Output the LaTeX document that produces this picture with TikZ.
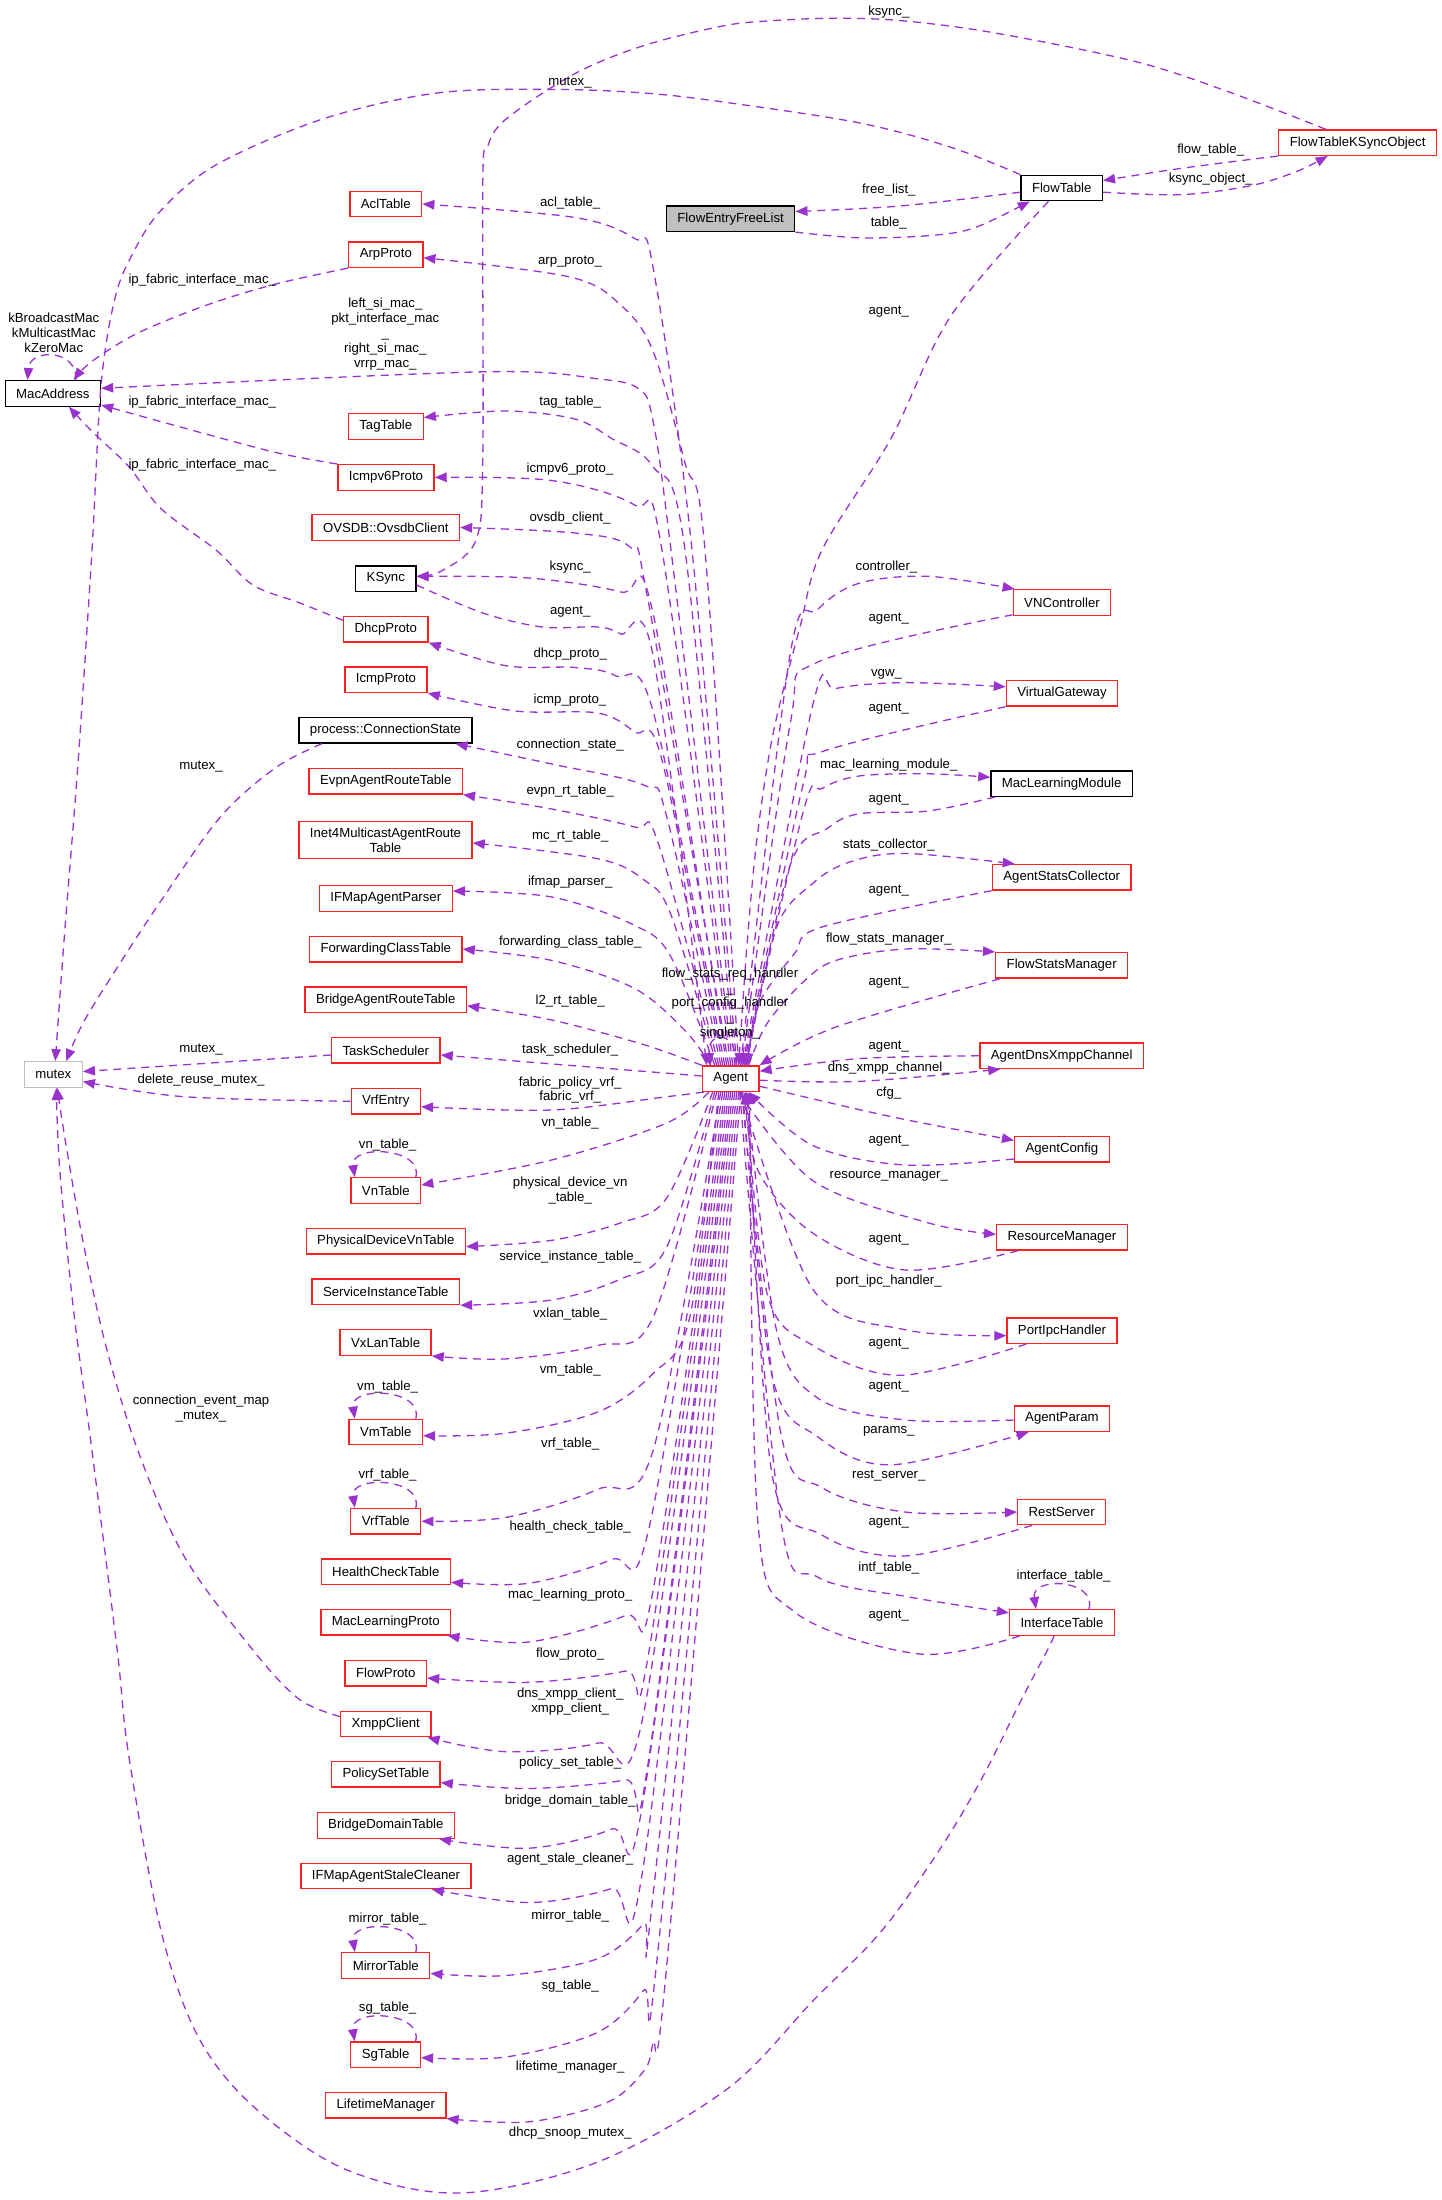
\documentclass[tikz,border=0pt]{standalone}
\usepackage{fontspec}
\setmainfont{Liberation Sans}
\usetikzlibrary{arrows.meta}
\definecolor{edgecol}{HTML}{9A32CD}
\definecolor{redbox}{HTML}{FF2020}
\definecolor{greybox}{HTML}{BFBFBF}
\newcommand\dgfont{\fontsize{13.2}{14.8}\selectfont}
\tikzset{
  cls/.style={draw=redbox, line width=1.3pt, fill=white, inner xsep=11pt, inner ysep=6.5pt,
              minimum height=25.5pt, align=center, font=\dgfont},
  clsk/.style={cls, draw=black},
  clsg/.style={cls, draw=greybox},
  clsroot/.style={cls, draw=black, fill=greybox},
  rel/.style={draw=edgecol, line width=1.3pt, dash pattern=on 8pt off 6pt,
              -{Triangle[length=12pt,width=9.5pt]}},
  lbl/.style={font=\dgfont, align=center, inner sep=0pt},
}
% smooth dashed relation through a list of points
\newcommand\dglink[1]{\draw[rel] plot[smooth,tension=0.55] coordinates {#1};}
% self relation drawn as a loop over the top of a class box
\newcommand\dgloop[3]{\draw[rel] ([xshift=#2pt]#1.north) .. controls +(8,-30) and +(-5,-33) .. ([xshift=-#3pt]#1.north);}

\begin{document}
\begin{tikzpicture}[x=1pt,y=-1pt]
\useasboundingbox (0,0) rectangle (1442,2200);

% ---------------- classes ----------------
\node[clsroot] (FlowEntryFreeList) at (730.6,218.7) {FlowEntryFreeList};
\node[clsk] (FlowTable) at (1061.7,188) {FlowTable};
\node[cls] (FTKSync) at (1357.6,142.6) {FlowTableKSyncObject};
\node[clsk] (MacAddress) at (52.9,393.4) {MacAddress};
\node[clsg] (mutex) at (53.3,1074.5) {mutex};
\node[cls] (Agent) at (730.7,1078.7) {Agent};

\node[cls] (AclTable) at (385.8,204) {AclTable};
\node[cls] (ArpProto) at (385.8,254.7) {ArpProto};
\node[cls] (TagTable) at (385.8,426.5) {TagTable};
\node[cls] (Icmpv6Proto) at (386,477.4) {Icmpv6Proto};
\node[cls] (OvsdbClient) at (385.8,527.5) {OVSDB::OvsdbClient};
\node[clsk] (KSync) at (385.8,578.6) {KSync};
\node[cls] (DhcpProto) at (385.8,629.3) {DhcpProto};
\node[cls] (IcmpProto) at (386,679.7) {IcmpProto};
\node[clsk] (ConnState) at (385.5,730.3) {process::ConnectionState};
\node[cls] (EvpnRT) at (385.8,781.2) {EvpnAgentRouteTable};
\node[cls] (McRT) at (385.5,839.9) {Inet4MulticastAgentRoute\\Table};
\node[cls] (IFMapParser) at (385.8,898.5) {IFMapAgentParser};
\node[cls] (FwdClass) at (385.8,949.1) {ForwardingClassTable};
\node[cls] (BridgeRT) at (385.8,999.8) {BridgeAgentRouteTable};
\node[cls] (TaskSched) at (385.8,1050.3) {TaskScheduler};
\node[cls] (VrfEntry) at (385.8,1101.3) {VrfEntry};
\node[cls] (VnTable) at (385.8,1190.5) {VnTable};
\node[cls] (PhysDevVn) at (385.8,1241.3) {PhysicalDeviceVnTable};
\node[cls] (SvcInst) at (385.8,1291.8) {ServiceInstanceTable};
\node[cls] (VxLan) at (385.6,1342.5) {VxLanTable};
\node[cls] (VmTable) at (385.8,1432) {VmTable};
\node[cls] (VrfTable) at (385.8,1521.2) {VrfTable};
\node[cls] (HealthCheck) at (385.8,1571.8) {HealthCheckTable};
\node[cls] (MacLearnProto) at (385.8,1622.1) {MacLearningProto};
\node[cls] (FlowProto) at (385.8,1673.2) {FlowProto};
\node[cls] (XmppClient) at (385.8,1724) {XmppClient};
\node[cls] (PolicySet) at (385.8,1774.3) {PolicySetTable};
\node[cls] (BridgeDomain) at (385.8,1825.5) {BridgeDomainTable};
\node[cls] (StaleCleaner) at (386,1875.9) {IFMapAgentStaleCleaner};
\node[cls] (MirrorTable) at (385.8,1965.4) {MirrorTable};
\node[cls] (SgTable) at (385.6,2054.6) {SgTable};
\node[cls] (Lifetime) at (385.8,2105.2) {LifetimeManager};

\node[cls] (VNController) at (1062,602.4) {VNController};
\node[cls] (VGateway) at (1062,693.3) {VirtualGateway};
\node[clsk] (MacLearnModule) at (1061.7,783.6) {MacLearningModule};
\node[cls] (StatsCollector) at (1061.7,877.3) {AgentStatsCollector};
\node[cls] (FlowStatsMgr) at (1061.7,965.3) {FlowStatsManager};
\node[cls] (DnsXmppChannel) at (1061.7,1055.8) {AgentDnsXmppChannel};
\node[cls] (AgentConfig) at (1061.9,1149.3) {AgentConfig};
\node[cls] (ResourceMgr) at (1062,1237.3) {ResourceManager};
\node[cls] (PortIpc) at (1062,1330.6) {PortIpcHandler};
\node[cls] (AgentParam) at (1061.9,1418.7) {AgentParam};
\node[cls] (RestServer) at (1061.7,1512) {RestServer};
\node[cls] (IntfTable) at (1062,1622.4) {InterfaceTable};

% ---------------- flow table group ----------------
\dglink{(FTKSync.south west) (1180.8,168.4) ([yshift=7.4pt]FlowTable.east)}
\dglink{([yshift=-4.2pt]FlowTable.east) (1180.8,194.7) (1249.8,185.9) (1295.7,171.9) ([xshift=-30pt]FTKSync.south)}
\dglink{([yshift=-4.2pt]FlowTable.west) (900,206) ([yshift=7.2pt]FlowEntryFreeList.east)}
\dglink{(FlowEntryFreeList.south east) (858.9,237.8) (927.9,235.7) (973.9,228) ([xshift=-32pt]FlowTable.south)}
\dglink{([xshift=-32pt]FTKSync.north) (1226.8,91.2) (1134.8,61.4) (996.9,33.3) (904.9,21) (836,18.2) (767,21) (721,26.3) (643.7,45.6) (574.8,73.7) (505.8,119.3) (487.4,147.3) (482.8,182.4) (482.8,456) (476,540) (441.4,571) ([yshift=2.3pt]KSync.east)}
\dglink{(FlowTable.north west) (950.9,147.3) (858.9,122.8) (721,101.7) (643.7,93) (551.7,89.4) (436.8,93) (321.8,119.3) (216,164.9) (161,210.4) (133.3,252.5) (115,298) (101,385.8) (92,550) (78.2,760.4) (64.4,935.8) ([xshift=2pt]mutex.north)}
\dglink{([xshift=-13.3pt]FlowTable.south) (951,315.7) (891,438.4) (822,550) (800,627) (773,734) (756.7,841) (746.7,949) ([xshift=8pt]Agent.north)}

% ---------------- MacAddress and mutex ----------------
\draw[rel] ([xshift=23pt]MacAddress.north) .. controls (78,349) and (30,348) .. ([xshift=-25.3pt]MacAddress.north);
\dglink{(ArpProto.south west) (275.9,284) (206.9,305) (138,333) (92,361.3) ([xshift=20.7pt]MacAddress.north)}
\dglink{(Icmpv6Proto.north west) (275.9,452.5) (184,428) ([yshift=-11.6pt]MacAddress.east)}
\dglink{([yshift=9pt]DhcpProto.west) (298.9,602.6) (252.9,585) (216,550) (161,508.6) (128.7,466.5) (92,431.4) ([xshift=16pt]MacAddress.south)}
\dglink{([xshift=-63.5pt]ConnState.south) (275.9,767.5) (220.7,816.6) (161,900.8) (115,971) (82.8,1023.5) ([xshift=13pt]mutex.north)}
\dglink{([yshift=-4.7pt]TaskSched.west) ([yshift=3pt]mutex.east)}
\dglink{(VrfEntry.west) (184,1096.7) ([yshift=-7pt]mutex.east)}
\dglink{([yshift=7.4pt]XmppClient.west) (298.9,1699) (252.9,1650) (184,1556) (138,1450.8) (105.8,1345.5) (82.8,1240.3) (64.4,1135) ([xshift=4pt]mutex.south)}
\dglink{([xshift=-8pt]IntfTable.south) (1047.5,1650) (1019.9,1702.6) (983,1776.3) (941.7,1846.4) (881.9,1930.6) (813,2000.8) (727.9,2088.4) (597.7,2162) (459.8,2193) (344.8,2169) (252.9,2106) (197.7,2035.8) (161,1930.6) (128.7,1755.2) (117.2,1650) (92,1450.8) (73.6,1310.4) (59.8,1170) ([xshift=3pt]mutex.south)}

% ---------------- Agent to the upper left ----------------
\dglink{([xshift=6pt]Agent.north) (692,550) (653,267) (634.5,238.5) (575,217.5) (AclTable.east)}
\dglink{([xshift=8pt]Agent.north) (705,550) (685,463) (653,351) (620.7,305) (570,277) ([yshift=-3pt]ArpProto.east)}
\dglink{([xshift=2pt]Agent.north) (671,550) (653,421) (639,389) (597.7,378.8) (483,371.8) ([yshift=5.1pt]MacAddress.east)}
\dglink{([xshift=4pt]Agent.north) (685,550) (653,466.5) (611.5,438.4) (574.8,419) (505.8,411) ([yshift=9pt]TagTable.east)}
\dglink{(Agent.north) (662,550) (634.5,505) (551.7,480.5) (Icmpv6Proto.east)}
\dglink{([xshift=-2pt]Agent.north) (648,600) (630,547) (574.8,533) (OvsdbClient.east)}
\dglink{([xshift=-4pt]Agent.north) (653,613) (620.7,592) (528.8,578) ([yshift=2.3pt]KSync.east)}
\dglink{([yshift=-6.4pt]KSync.east) (482.8,613) (542.6,627) (597.7,627) (620.7,634) (653,655) ([xshift=-24pt]Agent.north)}
\dglink{([xshift=-6pt]Agent.north) (653,711) (616,676) (574.8,667.5) (505.8,665.7) (DhcpProto.south east)}
\dglink{([xshift=-8pt]Agent.north) (662,760) (634.5,732) (597.7,713) (515,711) (IcmpProto.south east)}
\dglink{([xshift=-10pt]Agent.north) (666.7,816.6) (643.7,785) (551.7,764) ([xshift=70pt]ConnState.south)}
\dglink{([xshift=-12pt]Agent.north) (657.5,841) (634.5,827) (551.7,809) (EvpnRT.south east)}
\dglink{([xshift=-14pt]Agent.north) (671,914.8) (643.7,879.7) (597.7,858.7) ([yshift=-3pt]McRT.east)}
\dglink{([xshift=-16pt]Agent.north) (671,957) (634.5,925.3) (551.7,897) ([yshift=7.5pt]IFMapParser.east)}
\dglink{([xshift=-20pt]Agent.north) (685,1030.5) (634.5,988.4) (551.7,960.4) (FwdClass.east)}
\dglink{(Agent.north west) (643.7,1044.6) (551.7,1020) ([yshift=-6pt]BridgeRT.east)}
\dglink{([yshift=2.7pt]Agent.west) ([yshift=-4.7pt]TaskSched.east)}
\draw[rel] ([xshift=4pt]Agent.north) .. controls (740,1030) and (706,1030) .. ([xshift=-20pt]Agent.north);

% ---------------- Agent to the lower left ----------------
\dglink{([xshift=-27pt]Agent.south) (666.7,1096.7) (551.7,1110) ([yshift=-5.4pt]VrfEntry.east)}
\dglink{([xshift=-22pt]Agent.south) (666.7,1123) (551.7,1160) ([yshift=5.5pt]VnTable.east)}
\dglink{([xshift=-18pt]Agent.south) (666.7,1198) (620.7,1222.8) (551.7,1240.3) ([yshift=-5.3pt]PhysDevVn.east)}
\dglink{([xshift=-16pt]Agent.south) (666.7,1247) (620.7,1279) (551.7,1300) (SvcInst.south east)}
\dglink{([xshift=-14pt]Agent.south) (653,1317.5) (597.7,1345.5) (505.8,1358.9) (VxLan.south east)}
\dglink{([xshift=-12pt]Agent.south) (689.7,1317.5) (653,1373.6) (597.7,1412) (505.8,1433.2) ([yshift=-3.7pt]VmTable.east)}
\dglink{([xshift=-10pt]Agent.south) (653,1450.7) (597.7,1489.3) (505.8,1517.4) (VrfTable.east)}
\dglink{([xshift=-8pt]Agent.south) (648.3,1531.4) (611.5,1559.5) (528.8,1583.3) ([yshift=-10.5pt]HealthCheck.east)}
\dglink{([xshift=-6pt]Agent.south) (653,1591) (625.3,1615.6) (528.8,1642) ([xshift=-4pt]MacLearnProto.south east)}
\dglink{([xshift=-4pt]Agent.south) (648.3,1655.3) (625.3,1671) (528.8,1682.3) ([yshift=-4.8pt]FlowProto.east)}
\dglink{([xshift=-2pt]Agent.south) (643.7,1713) (597.7,1743) (505.8,1751.7) ([xshift=-4pt]XmppClient.south east)}
\dglink{(Agent.south) (648.3,1762) (625.3,1779.8) (528.8,1788.5) ([yshift=-8.3pt]PolicySet.east)}
\dglink{([xshift=2pt]Agent.south) (643.7,1797.3) (611.5,1829) (528.8,1848.2) ([xshift=-16pt]BridgeDomain.south east)}
\dglink{([xshift=4pt]Agent.south) (643.7,1864) (611.5,1888.5) (528.8,1902.5) ([xshift=-40pt]StaleCleaner.south east)}
\dglink{([xshift=6pt]Agent.south) (653,1895.5) (643.7,1923.6) (597.7,1958.7) (505.8,1975.5) ([yshift=-8pt]MirrorTable.east)}
\dglink{([xshift=8pt]Agent.south) (657.5,1955) (643.7,1990.2) (597.7,2032.3) (505.8,2057) ([yshift=-3pt]SgTable.east)}
\dglink{([xshift=10pt]Agent.south) (666.7,1965.7) (653,2043) (643.7,2071) (607,2102.5) (528.8,2121.8) (Lifetime.south east)}

% ---------------- self relations ----------------
\dgloop{VnTable}{30}{31}
\dgloop{VmTable}{30}{31}
\dgloop{VrfTable}{30}{31}
\dgloop{MirrorTable}{30}{31}
\dgloop{SgTable}{30}{31}
\dgloop{IntfTable}{27}{26}

% ---------------- Agent to the right ----------------
\dglink{([xshift=10pt]Agent.north) (790,655) (817.6,609.6) (859,583.3) (928,576.3) ([xshift=2pt]VNController.north west)}
\dglink{([yshift=1pt]VNController.south west) (817.6,662.2) (790,725) ([xshift=11pt]Agent.north)}
\dglink{([xshift=12pt]Agent.north) (813,704) (836,688.5) (905,682.6) ([yshift=6.5pt]VGateway.west)}
\dglink{(VGateway.south west) (822,751.7) (803.8,781.5) ([xshift=13pt]Agent.north)}
\dglink{([xshift=14pt]Agent.north) (803.8,809.6) (822,788.5) (859,776) (928,773.8) ([yshift=6.3pt]MacLearnModule.west)}
\dglink{([xshift=5pt]MacLearnModule.south west) (928,811) (859,813.8) (826.8,828.8) (790,865.7) ([xshift=15pt]Agent.north)}
\dglink{([xshift=16pt]Agent.north) (776,928.8) (813,883.2) (849.7,862) (905,853.4) ([xshift=23pt]StatsCollector.north west)}
\dglink{(StatsCollector.south west) (822,927) (794.6,953.4) (757.8,1006) ([xshift=17pt]Agent.north)}
\dglink{([xshift=18pt]Agent.north) (767,1023.5) (803.8,981.4) (836,960.4) (905,949) (FlowStatsMgr.north west)}
\dglink{([xshift=5pt]FlowStatsMgr.south west) (836,1027) (Agent.north east)}
\dglink{(DnsXmppChannel.west) (859,1058.6) ([yshift=7.5pt]Agent.east)}
\dglink{([yshift=-1.5pt]Agent.east) (859,1081.4) ([xshift=21pt]DnsXmppChannel.south west)}
\dglink{([yshift=-7.5pt]Agent.east) (888,1116) ([yshift=9pt]AgentConfig.west)}
\dglink{([yshift=-9.7pt]AgentConfig.west) (905,1165) (813,1145.6) ([xshift=18pt]Agent.south)}
\dglink{([xshift=8pt]Agent.south) (813,1180.7) (928,1222.8) ([yshift=3pt]ResourceMgr.west)}
\dglink{([xshift=22pt]ResourceMgr.south west) (905,1270) (813,1233.3) (757.8,1170) ([xshift=14pt]Agent.south)}
\dglink{([xshift=10pt]Agent.south) (813,1289.4) (905,1329.7) ([yshift=-5pt]PortIpc.west)}
\dglink{([xshift=20pt]PortIpc.south west) (900.3,1375.3) (813,1345.5) (767,1293) ([xshift=15pt]Agent.south)}
\dglink{([yshift=-1.3pt]AgentParam.west) (905,1420) (817.6,1398) (776,1328) ([xshift=16pt]Agent.south)}
\dglink{([xshift=12pt]Agent.south) (771.6,1373.6) (817.6,1436.7) (891,1464.8) ([xshift=15pt]AgentParam.south west)}
\dglink{([xshift=11pt]Agent.south) (780.8,1433) (822,1487.6) (905,1512) (RestServer.west)}
\dglink{([xshift=15pt]RestServer.south west) (905,1556) (822,1535) (771.6,1471.8) ([xshift=17pt]Agent.south)}
\dglink{([xshift=9pt]Agent.south) (780.8,1521) (817.6,1577) (905,1596.3) ([yshift=9.6pt]IntfTable.west)}
\dglink{([xshift=11pt]IntfTable.south west) (920,1654) (794.6,1612) (757.8,1521) ([xshift=19pt]Agent.south)}

% ---------------- relation labels ----------------
\node[lbl] (t1) at (888.8,11.6) {ksync\_};
\node[lbl] (t2) at (570,82.4) {mutex\_};
\node[lbl] (t3) at (1210.7,150.1) {flow\_table\_};
\node[lbl] (t4) at (1210.7,178.9) {ksync\_object\_};
\node[lbl] (t5) at (888.8,190.1) {free\_list\_};
\node[lbl] (t6) at (888.8,223) {table\_};
\node[lbl] (t7) at (888.8,311.5) {agent\_};
\node[lbl] (t8) at (570.2,203.4) {acl\_table\_};
\node[lbl] (t9) at (570,261.3) {arp\_proto\_};
\node[lbl] (t10) at (202.3,279.6) {ip\_fabric\_interface\_mac\_};
\node[lbl] (t11) at (385.3,334.1) {left\_si\_mac\_\\pkt\_interface\_mac\\\_\\right\_si\_mac\_\\vrrp\_mac\_};
\node[lbl] (t12) at (53.8,332.5) {kBroadcastMac\\kMulticastMac\\kZeroMac};
\node[lbl] (t13) at (202.3,402.3) {ip\_fabric\_interface\_mac\_};
\node[lbl] (t14) at (570.2,402.3) {tag\_table\_};
\node[lbl] (t15) at (202.3,464.7) {ip\_fabric\_interface\_mac\_};
\node[lbl] (t16) at (570,469) {icmpv6\_proto\_};
\node[lbl] (t17) at (570,518) {ovsdb\_client\_};
\node[lbl] (t18) at (570.2,567.5) {ksync\_};
\node[lbl] (t19) at (570.2,611.4) {agent\_};
\node[lbl] (t20) at (570.2,654.5) {dhcp\_proto\_};
\node[lbl] (t21) at (570,700) {icmp\_proto\_};
\node[lbl] (t22) at (570.2,744.7) {connection\_state\_};
\node[lbl] (t23) at (201,766.4) {mutex\_};
\node[lbl] (t24) at (570.2,791.3) {evpn\_rt\_table\_};
\node[lbl] (t25) at (570.2,835.9) {mc\_rt\_table\_};
\node[lbl] (t26) at (570.2,882.2) {ifmap\_parser\_};
\node[lbl] (t27) at (570.2,942.1) {forwarding\_class\_table\_};
\node[lbl] (t28) at (570.2,1000.7) {l2\_rt\_table\_};
\node[lbl] (t29) at (201,1049.8) {mutex\_};
\node[lbl] (t30) at (570.2,1050.5) {task\_scheduler\_};
\node[lbl] (t31) at (201,1080.3) {delete\_reuse\_mutex\_};
\node[lbl] (t32) at (570.2,1090) {fabric\_policy\_vrf\_\\fabric\_vrf\_};
\node[lbl] (t33) at (570.2,1123.5) {vn\_table\_};
\node[lbl] (t34) at (387.6,1144.9) {vn\_table\_};
\node[lbl] (t35) at (570.2,1190.8) {physical\_device\_vn\\\_table\_};
\node[lbl] (t36) at (570.2,1256.8) {service\_instance\_table\_};
\node[lbl] (t37) at (570.2,1314) {vxlan\_table\_};
\node[lbl] (t38) at (570.2,1370) {vm\_table\_};
\node[lbl] (t39) at (387.6,1386.6) {vm\_table\_};
\node[lbl] (t40) at (201,1408.3) {connection\_event\_map\\\_mutex\_};
\node[lbl] (t41) at (570.2,1443.7) {vrf\_table\_};
\node[lbl] (t42) at (387.6,1475.3) {vrf\_table\_};
\node[lbl] (t43) at (570.2,1527.2) {health\_check\_table\_};
\node[lbl] (t44) at (570.2,1594.6) {mac\_learning\_proto\_};
\node[lbl] (t45) at (570.2,1654.2) {flow\_proto\_};
\node[lbl] (t46) at (570.2,1701.7) {dns\_xmpp\_client\_\\xmpp\_client\_};
\node[lbl] (t47) at (570.2,1763.3) {policy\_set\_table\_};
\node[lbl] (t48) at (570.2,1800.8) {bridge\_domain\_table\_};
\node[lbl] (t49) at (570.2,1859.4) {agent\_stale\_cleaner\_};
\node[lbl] (t50) at (570.2,1915.9) {mirror\_table\_};
\node[lbl] (t51) at (387.6,1919.4) {mirror\_table\_};
\node[lbl] (t52) at (570.2,1986) {sg\_table\_};
\node[lbl] (t53) at (387.6,2008.5) {sg\_table\_};
\node[lbl] (t54) at (570.2,2067.4) {lifetime\_manager\_};
\node[lbl] (t55) at (570.2,2133) {dhcp\_snoop\_mutex\_};
\node[lbl] (t56) at (730,1003.5) {flow\_stats\_req\_handler\\\_\\port\_config\_handler\\\_\\singleton\_};

\node[lbl] (r1) at (886.5,567.5) {controller\_};
\node[lbl] (r2) at (888.8,618.4) {agent\_};
\node[lbl] (r3) at (886.5,674.5) {vgw\_};
\node[lbl] (r4) at (888.8,708.9) {agent\_};
\node[lbl] (r5) at (888.8,764.7) {mac\_learning\_module\_};
\node[lbl] (r6) at (888.8,800) {agent\_};
\node[lbl] (r7) at (888.8,844.6) {stats\_collector\_};
\node[lbl] (r8) at (888.8,891) {agent\_};
\node[lbl] (r9) at (888.8,939.3) {flow\_stats\_manager\_};
\node[lbl] (r10) at (888.8,982.5) {agent\_};
\node[lbl] (r11) at (888.8,1046.3) {agent\_};
\node[lbl] (r12) at (888.8,1068.4) {dns\_xmpp\_channel\_};
\node[lbl] (r13) at (888.8,1093) {cfg\_};
\node[lbl] (r14) at (888.8,1141) {agent\_};
\node[lbl] (r15) at (888.8,1176.1) {resource\_manager\_};
\node[lbl] (r16) at (888.8,1239.6) {agent\_};
\node[lbl] (r17) at (888.8,1280.6) {port\_ipc\_handler\_};
\node[lbl] (r18) at (888.8,1343.8) {agent\_};
\node[lbl] (r19) at (888.8,1386.9) {agent\_};
\node[lbl] (r20) at (888.8,1431.5) {params\_};
\node[lbl] (r21) at (888.8,1475.3) {rest\_server\_};
\node[lbl] (r22) at (888.8,1522.6) {agent\_};
\node[lbl] (r23) at (888.8,1567.6) {intf\_table\_};
\node[lbl] (r24) at (1063.6,1576.3) {interface\_table\_};
\node[lbl] (r25) at (888.8,1615.6) {agent\_};
\end{tikzpicture}
\end{document}
